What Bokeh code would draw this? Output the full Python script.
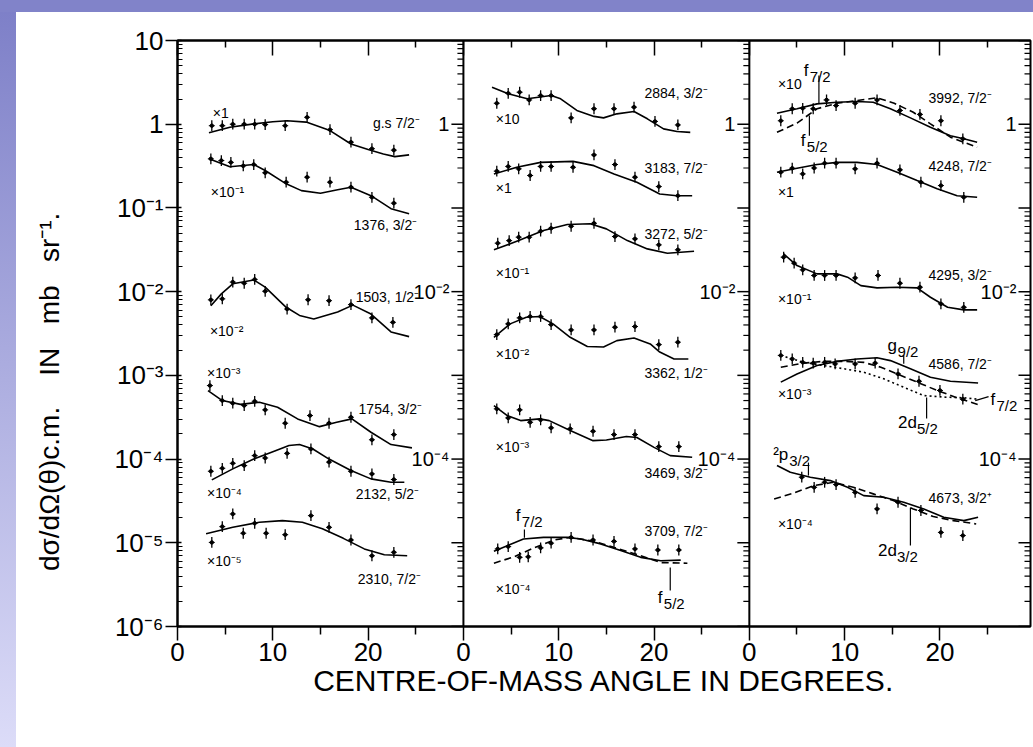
import numpy as np
from bokeh.plotting import figure
from bokeh.models import Range1d, FixedTicker, LinearAxis, Div, Span
from bokeh.layouts import column, row
from bokeh.core.properties import value
from bokeh.embed import file_html
from bokeh.resources import INLINE

FONT = "Liberation Sans"
PANEL_WIDTH = 30

# ---------------- data (angle in degrees within panel, cross section mb/sr) ----------------
# Panel 1
GS_X = [3.6, 4.7, 5.8, 7.0, 8.1, 9.2, 11.3, 13.6, 16.0, 18.2, 20.4, 22.7]
GS_Y = [0.96, 0.96, 1.0, 1.0, 1.0, 0.99, 0.96, 1.21, 0.86, 0.61, 0.51, 0.49]
GS_FX = [3.3, 5.5, 8.0, 10.0, 11.5, 13.5, 16.0, 18.2, 20.0, 21.6, 22.8, 24.3]
GS_FY = [0.79, 0.92, 1.01, 1.07, 1.1, 1.06, 0.84, 0.58, 0.50, 0.44, 0.41, 0.43]

E1376_X = [3.5, 4.6, 5.6, 6.9, 8.0, 9.2, 11.4, 13.6, 16.0, 18.2, 20.4, 22.7]
E1376_Y = [0.386, 0.368, 0.35, 0.318, 0.33, 0.263, 0.203, 0.233, 0.203, 0.177, 0.134, 0.114]
E1376_FX = [3.3, 5.5, 8.0, 9.2, 11.4, 13.0, 15.0, 16.8, 18.2, 20.3, 22.4, 24.3]
E1376_FY = [0.386, 0.31, 0.33, 0.28, 0.194, 0.161, 0.15, 0.165, 0.177, 0.14, 0.098, 0.085]

E1503_X = [3.5, 4.7, 5.8, 7.0, 8.1, 9.2, 11.5, 13.7, 15.9, 18.2, 20.4, 22.6]
E1503_Y = [0.00798, 0.0082, 0.013, 0.0126, 0.014, 0.0101, 0.0062, 0.008, 0.0078, 0.007, 0.00486, 0.0043]
E1503_FX = [3.5, 4.6, 5.8, 8.0, 9.2, 11.4, 12.8, 14.3, 16.8, 18.4, 20.3, 22.4, 24.3]
E1503_FY = [0.0068, 0.0094, 0.0124, 0.0138, 0.0113, 0.0065, 0.0052, 0.0047, 0.0057, 0.0069, 0.0054, 0.0033, 0.0029]

E1754_X = [3.4, 4.7, 5.8, 7.0, 8.1, 9.2, 11.3, 13.9, 15.9, 18.2, 20.4, 22.7]
E1754_Y = [7.55e-4, 5.0e-4, 4.65e-4, 4.36e-4, 4.9e-4, 3.87e-4, 2.68e-4, 3.31e-4, 2.68e-4, 3.16e-4, 1.70e-4, 1.96e-4]
E1754_FX = [3.2, 4.7, 6.6, 8.6, 10.5, 12.6, 14.9, 16.7, 18.3, 20.3, 22.4, 24.6]
E1754_FY = [6.58e-4, 5.0e-4, 4.5e-4, 4.78e-4, 4.16e-4, 3.02e-4, 2.44e-4, 2.75e-4, 3.02e-4, 2.09e-4, 1.49e-4, 1.36e-4]

E2132_X = [3.5, 4.7, 5.8, 7.0, 8.1, 9.2, 11.5, 14.0, 15.9, 18.2, 20.4, 22.7]
E2132_Y = [7.15e-5, 7.76e-5, 8.9e-5, 8.36e-5, 1.1e-4, 1.03e-4, 1.17e-4, 1.32e-4, 9.2e-5, 7.15e-5, 6.65e-5, 5.7e-5]
E2132_FX = [3.6, 5.8, 8.0, 9.8, 11.7, 12.8, 14.2, 15.9, 18.2, 20.3, 22.4, 23.8]
E2132_FY = [5.64e-5, 7.64e-5, 1.0e-4, 1.2e-4, 1.45e-4, 1.49e-4, 1.32e-4, 1.0e-4, 7.3e-5, 5.8e-5, 5.28e-5, 5.28e-5]

E2310_X = [3.6, 4.7, 5.8, 6.9, 8.1, 9.3, 11.3, 14.0, 15.9, 18.2, 20.4, 22.7]
E2310_Y = [1.01e-5, 1.56e-5, 2.21e-5, 1.3e-5, 1.71e-5, 1.3e-5, 1.25e-5, 2.11e-5, 1.53e-5, 1.08e-5, 7.0e-6, 7.7e-6]
E2310_FX = [3.0, 5.8, 8.6, 11.0, 13.1, 15.2, 17.4, 19.6, 21.7, 24.1]
E2310_FY = [1.28e-5, 1.53e-5, 1.76e-5, 1.84e-5, 1.76e-5, 1.47e-5, 1.13e-5, 8.45e-6, 7.2e-6, 7.0e-6]

# Panel 2
E2884_X = [3.5, 4.7, 5.9, 6.9, 8.1, 9.2, 11.3, 13.7, 15.8, 17.9, 20.1, 22.5]
E2884_Y = [1.78, 2.34, 2.41, 1.95, 2.2, 2.2, 1.19, 1.53, 1.53, 1.6, 1.08, 0.98]
E2884_FX = [3.0, 4.7, 6.7, 9.2, 10.2, 11.9, 13.7, 14.7, 16.1, 17.9, 19.3, 21.0, 22.4, 23.8]
E2884_FY = [2.77, 2.31, 2.01, 2.2, 2.01, 1.46, 1.24, 1.19, 1.33, 1.42, 1.16, 0.88, 0.82, 0.80]

E3183_X = [3.5, 4.7, 5.8, 7.0, 8.1, 9.2, 11.5, 13.7, 15.9, 18.0, 20.5, 22.5]
E3183_Y = [0.275, 0.313, 0.293, 0.244, 0.313, 0.313, 0.306, 0.43, 0.33, 0.233, 0.18, 0.14]
E3183_FX = [3.2, 5.6, 8.1, 11.5, 13.7, 15.8, 18.2, 20.6, 22.4, 24.0]
E3183_FY = [0.255, 0.306, 0.35, 0.36, 0.32, 0.255, 0.203, 0.147, 0.14, 0.14]

E3272_X = [3.6, 4.8, 5.8, 6.9, 8.1, 9.2, 11.3, 13.7, 15.9, 18.0, 20.5, 22.5]
E3272_Y = [0.0379, 0.0407, 0.0447, 0.0447, 0.0527, 0.0572, 0.0604, 0.0656, 0.0455, 0.0427, 0.0362, 0.0316]
E3272_FX = [3.2, 5.8, 8.4, 10.9, 13.3, 15.0, 17.2, 19.3, 21.4, 24.2]
E3272_FY = [0.0316, 0.0407, 0.0537, 0.0634, 0.0646, 0.0562, 0.0407, 0.0324, 0.0288, 0.0304]

E3362_X = [3.5, 4.7, 5.9, 7.0, 8.1, 9.2, 11.3, 13.7, 15.9, 18.0, 20.5, 22.5]
E3362_Y = [0.00307, 0.00412, 0.00486, 0.00505, 0.00505, 0.00404, 0.00349, 0.00349, 0.00376, 0.00383, 0.00233, 0.00249]
E3362_FX = [3.2, 4.9, 6.6, 8.0, 9.4, 11.2, 13.0, 14.7, 16.1, 17.9, 19.6, 20.6, 22.1, 23.6]
E3362_FY = [0.00285, 0.00412, 0.00495, 0.00505, 0.00412, 0.00285, 0.00221, 0.00218, 0.0026, 0.0028, 0.00237, 0.0019, 0.00157, 0.00157]

E3469_X = [3.5, 4.7, 5.9, 7.0, 8.1, 9.2, 11.2, 13.6, 15.8, 18.0, 20.5, 22.6]
E3469_Y = [3.98e-4, 3.1e-4, 3.87e-4, 2.75e-4, 2.94e-4, 2.36e-4, 2.3e-4, 2.15e-4, 1.96e-4, 1.96e-4, 1.41e-4, 1.41e-4]
E3469_FX = [3.2, 4.6, 6.0, 8.0, 9.0, 11.2, 13.6, 15.0, 17.1, 18.2, 20.0, 21.7, 24.0]
E3469_FY = [4.36e-4, 3.31e-4, 2.88e-4, 3.02e-4, 2.88e-4, 2.19e-4, 1.66e-4, 1.69e-4, 1.86e-4, 1.81e-4, 1.38e-4, 1.1e-4, 1.05e-4]

E3709_X = [3.6, 4.7, 5.9, 6.8, 8.1, 9.2, 11.3, 13.6, 15.8, 18.0, 20.4, 22.6]
E3709_Y = [8.45e-6, 9.0e-6, 6.7e-6, 6.8e-6, 8.7e-6, 9.9e-6, 1.16e-5, 1.08e-5, 1.04e-5, 8.45e-6, 8.2e-6, 8.2e-6]
E3709_FX = [3.2, 6.3, 8.4, 10.9, 12.3, 14.4, 16.5, 18.6, 20.7, 22.8]            # f7/2
E3709_FY = [7.9e-6, 1.11e-5, 1.16e-5, 1.16e-5, 1.11e-5, 9.7e-6, 8.07e-6, 6.7e-6, 6.1e-6, 6.2e-6]
E3709_DX = [3.2, 5.3, 7.4, 9.5, 11.2, 13.6, 15.7, 18.6, 20.7, 23.5]             # f5/2
E3709_DY = [5.7e-6, 6.8e-6, 8.7e-6, 1.08e-5, 1.16e-5, 1.05e-5, 8.9e-6, 7.0e-6, 5.8e-6, 5.7e-6]

# Panel 3
E3992_X = [3.3, 4.5, 5.6, 6.7, 8.1, 9.1, 11.1, 13.4, 15.8, 17.9, 20.1, 22.4]
E3992_Y = [1.1, 1.53, 1.55, 1.53, 1.95, 1.67, 1.78, 1.95, 1.46, 1.31, 1.1, 0.67]
E3992_FX = [2.9, 5.0, 7.1, 9.2, 11.3, 13.0, 14.8, 16.9, 19.0, 21.1, 22.5, 23.9]   # f7/2
E3992_FY = [1.35, 1.53, 1.75, 1.83, 1.87, 1.83, 1.53, 1.19, 0.92, 0.73, 0.67, 0.61]
E3992_DX = [2.9, 5.0, 7.1, 9.2, 11.3, 13.4, 15.2, 17.2, 19.0, 21.1, 23.9]        # f5/2
E3992_DY = [0.80, 1.03, 1.53, 1.78, 1.92, 2.07, 1.78, 1.39, 1.01, 0.70, 0.53]

E4248_X = [3.3, 4.5, 5.6, 6.8, 7.9, 9.1, 11.1, 13.4, 15.8, 18.0, 20.1, 22.5]
E4248_Y = [0.267, 0.298, 0.255, 0.30, 0.342, 0.342, 0.293, 0.342, 0.285, 0.203, 0.185, 0.134]
E4248_FX = [2.9, 5.0, 7.1, 9.2, 11.3, 13.4, 15.5, 17.6, 19.7, 21.8, 23.9]
E4248_FY = [0.267, 0.298, 0.33, 0.35, 0.35, 0.33, 0.267, 0.212, 0.169, 0.14, 0.134]

E4295_X = [3.6, 4.7, 5.6, 6.8, 7.9, 9.1, 11.1, 13.5, 15.8, 17.9, 20.1, 22.5]
E4295_Y = [0.0258, 0.0219, 0.0182, 0.0156, 0.0156, 0.0156, 0.0146, 0.0156, 0.0126, 0.0113, 0.00715, 0.0065]
E4295_FX = [3.6, 5.0, 7.1, 9.2, 10.3, 11.7, 13.4, 15.5, 17.6, 19.0, 20.8, 22.5, 23.9]
E4295_FY = [0.0282, 0.0205, 0.0163, 0.0163, 0.0149, 0.0118, 0.0111, 0.0113, 0.0111, 0.00857, 0.0065, 0.00605, 0.00605]

E4586_X = [3.3, 4.5, 5.6, 6.7, 7.9, 9.0, 11.1, 13.2, 15.6, 17.8, 20.0, 22.4]
E4586_Y = [1.73e-3, 1.57e-3, 1.43e-3, 1.4e-3, 1.43e-3, 1.37e-3, 1.37e-3, 1.4e-3, 1.04e-3, 8.5e-4, 6.6e-4, 5.2e-4]
E4586_FX = [3.3, 5.0, 7.1, 9.2, 11.3, 13.4, 14.8, 16.9, 19.0, 21.1, 24.0]         # g9/2
E4586_FY = [8.3e-4, 1.04e-3, 1.31e-3, 1.47e-3, 1.57e-3, 1.62e-3, 1.5e-3, 1.2e-3, 9.5e-4, 8.5e-4, 8.1e-4]
E4586_DX = [3.3, 5.7, 7.8, 9.9, 12.0, 13.8, 15.5, 17.6, 19.7, 21.8, 24.3]         # f7/2
E4586_DY = [1.25e-3, 1.4e-3, 1.47e-3, 1.47e-3, 1.43e-3, 1.25e-3, 1.04e-3, 8.3e-4, 6.6e-4, 5.4e-4, 4.36e-4]
E4586_TX = [3.3, 5.7, 7.8, 9.9, 12.0, 14.1, 16.2, 18.3, 20.4, 22.5, 23.9]         # 2d5/2
E4586_TY = [1.73e-3, 1.43e-3, 1.31e-3, 1.2e-3, 1.09e-3, 9.1e-4, 7.2e-4, 5.74e-4, 5.5e-4, 5.4e-4, 5.2e-4]

E4673_X = [5.5, 6.8, 7.9, 9.1, 11.1, 13.4, 15.6, 18.0, 20.1, 22.4]
E4673_Y = [6.07e-5, 4.6e-5, 5.28e-5, 4.96e-5, 4.0e-5, 2.54e-5, 3.05e-5, 2.43e-5, 1.33e-5, 1.22e-5]
E4673_FX = [2.9, 4.3, 6.4, 8.5, 10.3, 12.0, 14.1, 16.2, 18.3, 20.4, 22.5, 24.0]   # 2p3/2
E4673_FY = [8.36e-5, 6.95e-5, 6.07e-5, 5.53e-5, 4.6e-5, 3.66e-5, 3.5e-5, 3.05e-5, 2.54e-5, 2.02e-5, 1.84e-5, 2.02e-5]
E4673_DX = [2.6, 4.6, 6.7, 8.8, 10.9, 13.0, 15.1, 17.2, 19.3, 21.4, 23.8]         # 2d3/2
E4673_DY = [3.34e-5, 3.9e-5, 4.8e-5, 5.28e-5, 4.6e-5, 3.84e-5, 3.19e-5, 2.54e-5, 2.06e-5, 1.84e-5, 1.68e-5]

STATE_LABELS = ["g.s 7/2\u207b", "1376, 3/2\u207b", "1503, 1/2\u207b", "1754, 3/2\u207b", "2132, 5/2\u207b", "2310, 7/2\u207b",
                "2884, 3/2\u207b", "3183, 7/2\u207b", "3272, 5/2\u207b", "3362, 1/2\u207b", "3469, 3/2\u207b", "3709, 7/2\u207b",
                "3992, 7/2\u207b", "4248, 7/2\u207b", "4295, 3/2\u207b", "4586, 7/2\u207b", "4673, 3/2\u207a"]
SCALE_LABELS = ["\u00d71", "\u00d710\u207b\u00b9", "\u00d710\u207b\u00b2", "\u00d710\u207b\u00b3", "\u00d710\u207b\u2074", "\u00d710\u207b\u2075",
                "\u00d710", "\u00d71", "\u00d710\u207b\u00b9", "\u00d710\u207b\u00b2", "\u00d710\u207b\u00b3", "\u00d710\u207b\u2074",
                "\u00d710", "\u00d71", "\u00d710\u207b\u00b9", "\u00d710\u207b\u00b3", "\u00d710\u207b\u2074"]
PANEL_OF_STATE = [0] * 6 + [1] * 6 + [2] * 5

X_TICK_LABELS = ["0", "10", "20"]
Y_DECADE_EXPONENTS = [-6, -5, -4, -3, -2, -1, 0, 1]
Y_TICK_LABELS = ["10\u207b\u2076", "10\u207b\u2075", "10\u207b\u2074", "10\u207b\u00b3", "10\u207b\u00b2", "10\u207b\u00b9", "1", "10"]
INNER_LABEL_VALUES = [1.0, 1e-2, 1e-4]
INNER_LABELS = ["1", "10\u207b\u00b2", "10\u207b\u2074"]
NB = "\u00a0"
Y_TITLE = "d\u03c3/d\u03a9(\u03b8)c.m." + NB * 4 + "IN" + NB * 3 + "mb" + NB * 3 + "sr\u207b\u00b9."
X_TITLE = "CENTRE-OF-MASS ANGLE IN DEGREES."
REL_ERR = 1.16

# ---------------- layout / annotation positions ----------------
STATE_LABEL_POS = [(20.5, 1.02), (18.5, 0.063), (18.7, 0.00873), (19.0, 4.0e-4), (18.7, 3.87e-5), (18.9, 3.73e-6),
                   (19.0, 2.33), (19.0, 0.304), (19.0, 0.0494), (19.0, 0.00108), (19.0, 6.9e-5), (19.0, 1.4e-5),
                   (18.8, 2.08), (18.8, 0.321), (18.8, 0.0156), (18.8, 0.00138), (18.8, 3.47e-5)]
SCALE_LABEL_POS = [(3.7, 1.38), (3.5, 0.157), (3.4, 0.00343), (3.1, 0.00108), (3.1, 3.98e-5), (3.1, 6.1e-6),
                   (3.4, 1.14), (3.4, 0.171), (3.4, 0.0169), (3.4, 0.00182), (3.4, 1.41e-4), (3.4, 2.84e-6),
                   (3.0, 3.06), (3.0, 0.153), (3.0, 0.00828), (3.0, 6.07e-4), (3.0, 1.69e-5)]
# (panel, base text, subscript, x, y, base width px)
ORBITAL_LABELS = [(1, "f", "7/2", 5.5, 2.11e-5, 6), (1, "f", "5/2", 20.4, 2.21e-6, 6),
                  (2, "f", "7/2", 5.7, 4.39, 6), (2, "f", "5/2", 5.4, 0.638, 6),
                  (2, "g", "9/2", 14.5, 0.00227, 10), (2, "f", "7/2", 25.3, 5.14e-4, 6),
                  (2, "2d", "5/2", 15.6, 2.73e-4, 19), (2, "\u00b2p", "3/2", 2.5, 1.13e-4, 16),
                  (2, "2d", "3/2", 13.5, 8.07e-6, 19)]
LEADERS = [(1, 6.4, 1.44e-5, 6.4, 1.15e-5), (1, 21.7, 5.06e-6, 21.7, 2.69e-6),
           (2, 7.3, 3.82, 7.3, 1.77), (2, 6.3, 1.27, 6.3, 0.73),
           (2, 16.2, 1.73e-3, 16.2, 1.38e-3), (2, 23.7, 5.0e-4, 25.1, 5.58e-4),
           (2, 18.6, 5.43e-4, 18.6, 3.05e-4), (2, 6.2, 9.08e-5, 6.2, 6.35e-5),
           (2, 16.9, 2.63e-5, 16.9, 9.3e-6)]

SERIES = [
    (GS_X, GS_Y, [(GS_FX, GS_FY, "solid")]),
    (E1376_X, E1376_Y, [(E1376_FX, E1376_FY, "solid")]),
    (E1503_X, E1503_Y, [(E1503_FX, E1503_FY, "solid")]),
    (E1754_X, E1754_Y, [(E1754_FX, E1754_FY, "solid")]),
    (E2132_X, E2132_Y, [(E2132_FX, E2132_FY, "solid")]),
    (E2310_X, E2310_Y, [(E2310_FX, E2310_FY, "solid")]),
    (E2884_X, E2884_Y, [(E2884_FX, E2884_FY, "solid")]),
    (E3183_X, E3183_Y, [(E3183_FX, E3183_FY, "solid")]),
    (E3272_X, E3272_Y, [(E3272_FX, E3272_FY, "solid")]),
    (E3362_X, E3362_Y, [(E3362_FX, E3362_FY, "solid")]),
    (E3469_X, E3469_Y, [(E3469_FX, E3469_FY, "solid")]),
    (E3709_X, E3709_Y, [(E3709_FX, E3709_FY, "solid"), (E3709_DX, E3709_DY, "7 4")]),
    (E3992_X, E3992_Y, [(E3992_FX, E3992_FY, "solid"), (E3992_DX, E3992_DY, "7 4")]),
    (E4248_X, E4248_Y, [(E4248_FX, E4248_FY, "solid")]),
    (E4295_X, E4295_Y, [(E4295_FX, E4295_FY, "solid")]),
    (E4586_X, E4586_Y, [(E4586_FX, E4586_FY, "solid"), (E4586_DX, E4586_DY, "7 4"), (E4586_TX, E4586_TY, "2 3")]),
    (E4673_X, E4673_Y, [(E4673_FX, E4673_FY, "solid"), (E4673_DX, E4673_DY, "7 4")]),
]

X_END = 89.5
BOUNDARIES = [PANEL_WIDTH, 2 * PANEL_WIDTH, X_END]

# ---------------- figure ----------------
p = figure(width=1017, height=735, x_range=Range1d(0, X_END), y_range=Range1d(1e-6, 10),
           y_axis_type="log", output_backend="svg", toolbar_location=None,
           min_border_left=161, min_border_right=3, min_border_top=28, min_border_bottom=121)
p.background_fill_color = "white"
p.border_fill_color = "white"
p.outline_line_color = "black"
p.outline_line_width = 2
p.grid.visible = False

x_major = [PANEL_WIDTH * k + v for k in range(3) for v in (0, 10, 20)]
x_minor = [PANEL_WIDTH * k + v for k in range(3) for v in (5, 15, 25)]
x_overrides = {PANEL_WIDTH * k + v: lab for k in range(3) for v, lab in zip((0, 10, 20), X_TICK_LABELS)}

xa = p.xaxis[0]
xa.ticker = FixedTicker(ticks=x_major, minor_ticks=x_minor)
xa.major_label_overrides = x_overrides
xa.major_tick_out = 14
xa.major_tick_in = 0
xa.minor_tick_out = 8
xa.minor_tick_in = 0
xa.axis_line_width = 2
xa.major_tick_line_width = 1.5
xa.minor_tick_line_width = 1.5
xa.major_label_text_font = FONT
xa.major_label_text_font_size = "26px"
xa.major_label_text_color = "black"
xa.major_label_standoff = 2
xa.axis_label = X_TITLE
xa.axis_label_text_font = FONT
xa.axis_label_text_font_size = "30px"
xa.axis_label_text_font_style = "normal"
xa.axis_label_text_color = "black"
xa.axis_label_standoff = 0

top = LinearAxis(ticker=FixedTicker(ticks=x_major, minor_ticks=x_minor))
top.major_tick_in = 15
top.major_tick_out = 0
top.minor_tick_in = 7
top.minor_tick_out = 0
top.major_label_text_alpha = 0
top.major_label_text_font_size = "1px"
top.axis_line_width = 2
top.major_tick_line_width = 1.5
top.minor_tick_line_width = 1.5
p.add_layout(top, "above")

decades = [10.0 ** e for e in Y_DECADE_EXPONENTS]
minors = [m * 10.0 ** e for e in Y_DECADE_EXPONENTS[:-1] for m in range(2, 10)]
ya = p.yaxis[0]
ya.ticker = FixedTicker(ticks=decades, minor_ticks=minors)
ya.major_label_overrides = {d: lab for d, lab in zip(decades, Y_TICK_LABELS)}
ya.major_tick_out = 12
ya.major_tick_in = 4
ya.minor_tick_in = 5
ya.minor_tick_out = 0
ya.axis_line_width = 2
ya.major_tick_line_width = 1.5
ya.major_label_text_font = FONT
ya.major_label_text_font_size = "26px"
ya.major_label_text_color = "black"
ya.major_label_standoff = 2
# trailing no-break spaces shift the centred title toward the bottom, as in the original
ya.axis_label = Y_TITLE + NB * 15
ya.axis_label_text_font = FONT
ya.axis_label_text_font_size = "28px"
ya.axis_label_text_font_style = "normal"
ya.axis_label_text_color = "black"
ya.axis_label_standoff = 46

# panel boundaries with inward ticks and labels
for b in BOUNDARIES[:2]:
    p.add_layout(Span(location=b, dimension="height", line_color="black", line_width=2))
for b in BOUNDARIES:
    p.ray(x=[b] * len(decades), y=decades, length=12, length_units="screen", angle=np.pi,
          line_color="black", line_width=1.5)
    p.ray(x=[b] * len(minors), y=minors, length=6, length_units="screen", angle=np.pi,
          line_color="black", line_width=1.2)
    p.text(x=[b] * len(INNER_LABELS), y=INNER_LABEL_VALUES, text=INNER_LABELS, x_offset=-14,
           text_align="right", text_baseline="middle", text_font=value(FONT),
           text_font_size="20px", text_color="black")

# data and curves
for i, (xs, ys, curves) in enumerate(SERIES):
    off = PANEL_WIDTH * PANEL_OF_STATE[i]
    xx = np.array(xs) + off
    yy = np.array(ys)
    for cx, cy, dash in curves:
        p.line(np.array(cx) + off, cy, line_color="black", line_width=1.6, line_dash=dash)
    p.segment(x0=xx, y0=yy / REL_ERR, x1=xx, y1=yy * REL_ERR, line_color="black", line_width=1.3)
    p.scatter(xx, yy, marker="dash", size=6, line_color="black", line_width=1.0)
    p.scatter(xx, yy, marker="circle", size=3.5, color="black")
    lx, ly = STATE_LABEL_POS[i]
    p.text(x=[lx + off], y=[ly], text=[STATE_LABELS[i]], text_align="left", text_baseline="middle",
           text_font=value(FONT), text_font_size="14px", text_color="black")
    sx, sy = SCALE_LABEL_POS[i]
    p.text(x=[sx + off], y=[sy], text=[SCALE_LABELS[i]], text_align="left", text_baseline="middle",
           text_font=value(FONT), text_font_size="14px", text_color="black")

for panel, base, sub, x, y, w in ORBITAL_LABELS:
    off = PANEL_WIDTH * panel
    p.text(x=[x + off], y=[y], text=[base], text_align="left", text_baseline="middle",
           text_font=value(FONT), text_font_size="17px", text_color="black")
    p.text(x=[x + off], y=[y], text=[sub], x_offset=w, y_offset=6, text_align="left",
           text_baseline="middle", text_font=value(FONT), text_font_size="15px", text_color="black")

for panel, x0, y0, x1, y1 in LEADERS:
    off = PANEL_WIDTH * panel
    p.segment(x0=[x0 + off], y0=[y0], x1=[x1 + off], y1=[y1], line_color="black", line_width=1.2)

top_strip = Div(width=1033, height=12, margin=0, styles={"background": "#8183c9"})
left_strip = Div(width=16, height=735, margin=0,
                 styles={"background": "linear-gradient(to bottom, #7e80c8, #dcdcf8)"})
layout = column(top_strip, row(left_strip, p, spacing=0), spacing=0)

open("out.html", "w").write(file_html(layout, INLINE))
